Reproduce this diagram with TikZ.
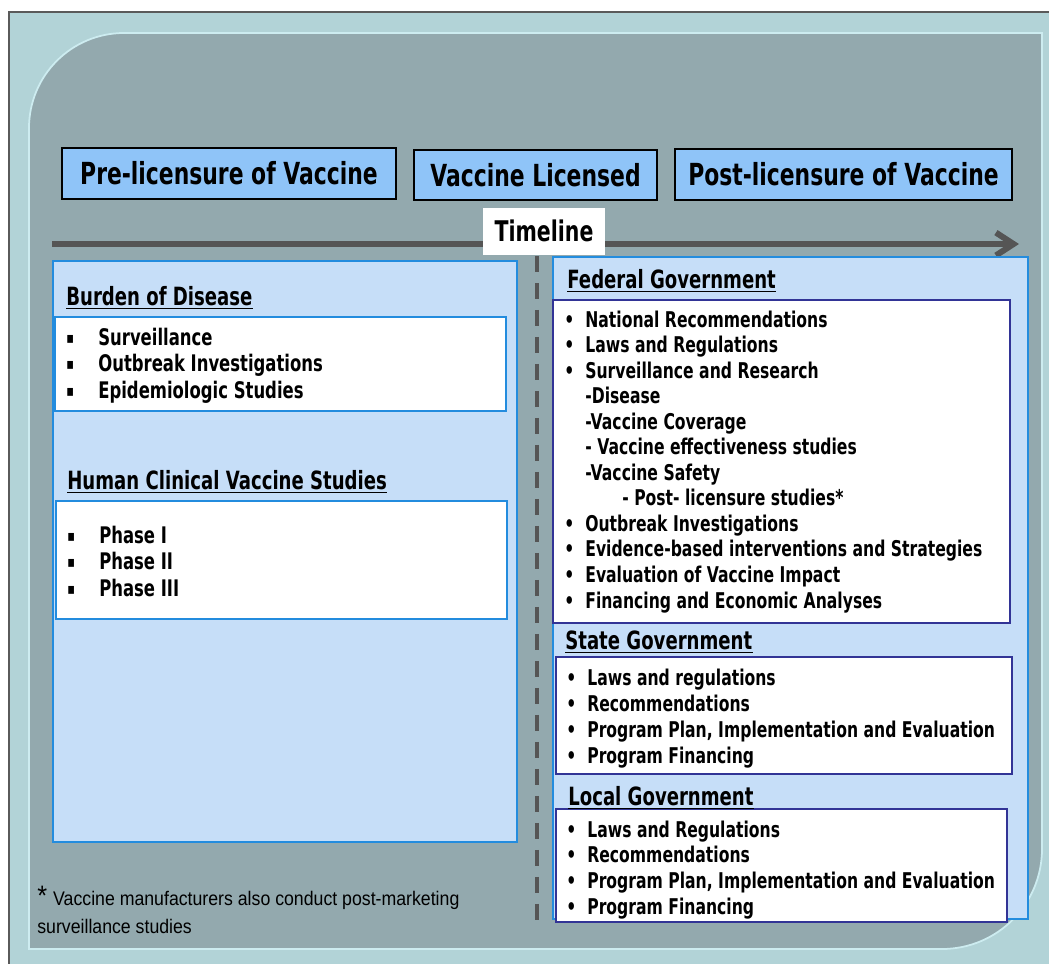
\documentclass[tikz,border=0pt]{standalone}
\usepackage{fontspec}
\setmainfont{DejaVu Sans}[FakeStretch=0.72]
\newfontfamily\notefont{Liberation Sans}[FakeStretch=0.9]
\usetikzlibrary{arrows.meta}

\definecolor{frameteal}{RGB}{178,211,215}
\definecolor{rimgray}{RGB}{90,90,90}
\definecolor{rimcyan}{RGB}{205,236,240}
\definecolor{panelgray}{RGB}{147,169,174}
\definecolor{headblue}{RGB}{143,196,248}
\definecolor{paleblue}{RGB}{198,222,248}
\definecolor{edgeblue}{RGB}{35,140,222}
\definecolor{navy}{RGB}{50,52,150}
\definecolor{linegray}{RGB}{85,85,85}

% bullets and indents for the lists
\newcommand\bul{\makebox[0.42cm][l]{\textbullet}}
\newcommand\sqbul{\makebox[0.64cm][l]{\raisebox{0.15ex}{\fontsize{9}{9}\selectfont ▪}}}
\newcommand\subgap{\hspace*{0.42cm}}
\newcommand\subsubgap{\hspace*{1.16cm}}

\begin{document}
\begin{tikzpicture}[
	x=0.02cm, y=-0.02cm,
	headbox/.style={ draw=black, line width=1.1pt, fill=headblue, inner sep=0pt, font=\bfseries\fontsize{17.3}{20}\selectfont },
	heading/.style={ anchor=base west, inner sep=0pt, font=\bfseries\fontsize{14.3}{17}\selectfont },
	litem/.style={ anchor=base west, inner sep=0pt, font=\bfseries\fontsize{13}{15}\selectfont },
	ritem/.style={ anchor=base west, inner sep=0pt, font=\bfseries\fontsize{12.35}{14}\selectfont },
	note/.style={ anchor=base west, inner sep=0pt, font=\notefont\fontsize{11.2}{13}\selectfont },
	panel/.style={ draw=edgeblue, line width=0.8pt, fill=paleblue },
	listbox/.style={ draw=edgeblue, line width=1pt, fill=white },
	govbox/.style={ draw=navy, line width=1pt, fill=white },
	uline/.style={ line width=1.1pt }
]

\useasboundingbox (0,0) rectangle (1049,964);

% frame and slide panel
\fill[frameteal] (9,12) rectangle (1049,964);
\draw[rimgray, line width=1pt] (9,964) -- (9,12) -- (1049,12);
\filldraw[fill=panelgray, draw=rimcyan, line width=1pt]
  (29,500) [rounded corners=1.9cm] -- (29,33) -- (600,33)
  [sharp corners] -- (1042,33) -- (1042,500)
  [rounded corners=2cm] -- (1042,949) -- (600,949)
  [sharp corners] -- (29,949) -- cycle;

% stages
\node[headbox, minimum width=6.68cm, minimum height=1.02cm] (pre) at (229,173.5) {Pre-licensure of Vaccine};
\node[headbox, minimum width=4.86cm, minimum height=1cm] (licensed) at (535.5,175) {Vaccine Licensed};
\node[headbox, minimum width=6.74cm, minimum height=1.02cm] (post) at (843.5,174.5) {Post-licensure of Vaccine};

% time axis
\draw[linegray, line width=3.4pt, -{Straight Barb[length=10pt,width=13pt]}] (52,244) -- (1019,244);
\draw[linegray, line width=2pt, dash pattern=on 0.32cm off 0.22cm] (537,256) -- (537,926);
\node[fill=white, inner sep=0pt, minimum width=2.44cm, minimum height=0.94cm,
  font=\bfseries\fontsize{16.2}{19}\selectfont] (timeline) at (544,231) {Timeline};

% before licensure
\draw[panel] (53,261) rectangle (517,842);
\draw[listbox] (55,317) rectangle (506,411);
\draw[listbox] (56,501) rectangle (507,619);

\node[heading] (burden) at (66,305) {Burden of Disease};
\foreach \txt [count=\i] in {Surveillance, Outbreak Investigations, Epidemiologic Studies}
  \node[litem] (burden\i) at (66,{345+26.5*(\i-1)}) {\sqbul\txt};

\node[heading] (clinical) at (67,489) {Human Clinical Vaccine Studies};
\foreach \txt [count=\i] in {Phase I, Phase II, Phase III}
  \node[litem] (phase\i) at (67,{543+26.5*(\i-1)}) {\sqbul\txt};

% after licensure
\draw[panel] (553,257) rectangle (1028,919);
\draw[govbox] (553,300) rectangle (1010,623);
\draw[govbox] (556,657) rectangle (1012,774);
\draw[govbox] (556,809) rectangle (1007,922);

\node[heading] (federal) at (567,288) {Federal Government};
\foreach \txt [count=\i] in {\bul National Recommendations, \bul Laws and Regulations,
    \bul Surveillance and Research, \subgap -Disease, \subgap -Vaccine Coverage,
    \subgap - Vaccine effectiveness studies, \subgap -Vaccine Safety,
    \subsubgap - Post- licensure studies*, \bul Outbreak Investigations,
    \bul Evidence-based interventions and Strategies, \bul Evaluation of Vaccine Impact,
    \bul Financing and Economic Analyses}
  \node[ritem] (fed\i) at (564,{327+25.55*(\i-1)}) {\txt};

\node[heading] (state) at (565,649) {State Government};
\foreach \txt [count=\i] in {Laws and regulations, Recommendations,
    {Program Plan, Implementation and Evaluation}, Program Financing}
  \node[ritem] (state\i) at (566,{685+26*(\i-1)}) {\bul\txt};

\node[heading] (local) at (568,805) {Local Government};
\foreach \txt [count=\i] in {Laws and Regulations, Recommendations,
    {Program Plan, Implementation and Evaluation}, Program Financing}
  \node[ritem] (local\i) at (566,{837+25.7*(\i-1)}) {\bul\txt};

% underlined headings
\foreach \h in {burden, clinical, federal, state, local}
  \draw[uline] ([yshift=-2pt]\h.base west) -- ([yshift=-2pt]\h.base east);

% footnote
\node[note] (note1) at (37,905) {{\fontsize{16}{16}\selectfont *}\hspace{0.12cm}Vaccine manufacturers also conduct post-marketing};
\node[note] (note2) at (37,933) {surveillance studies};

\end{tikzpicture}
\end{document}
